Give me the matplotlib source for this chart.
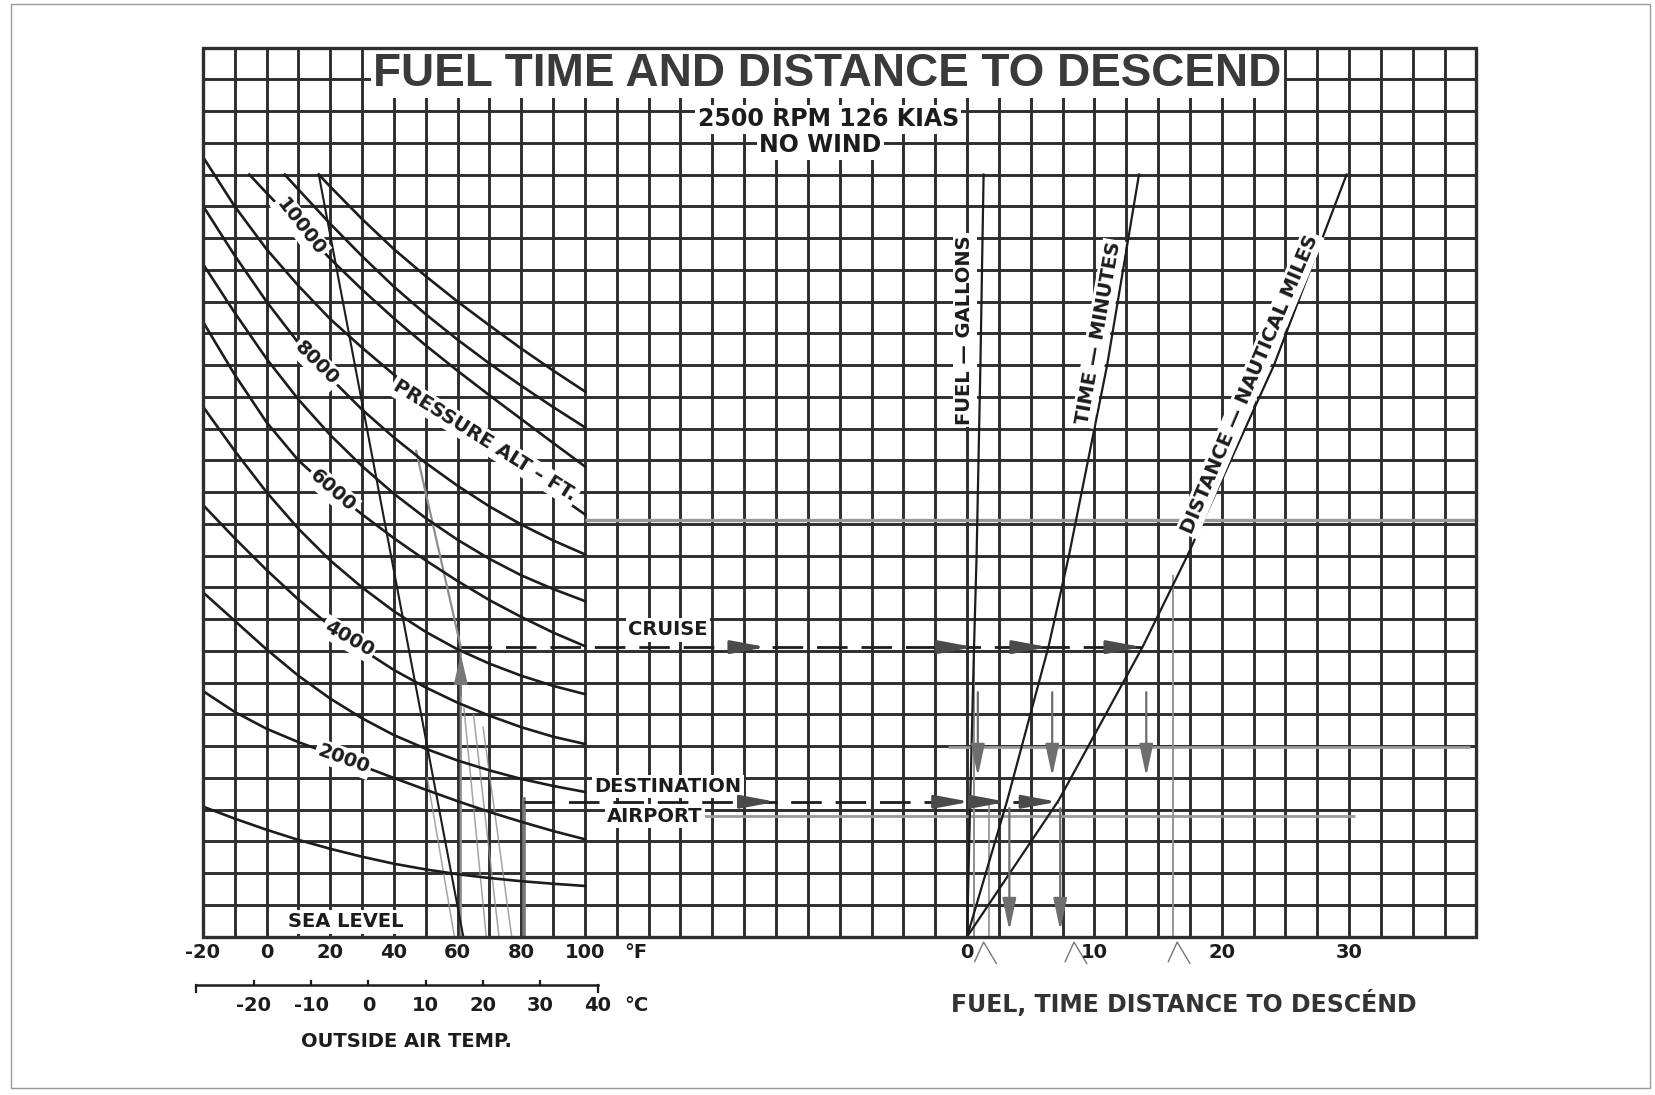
import matplotlib.pyplot as plt
import numpy as np
from matplotlib.patches import Rectangle

# left panel: outside air temperature columns, deg F
oat_f = [-20, -10, 0, 10, 20, 30, 40, 50, 60, 70, 80, 90, 100]

# pressure altitude curves, height in chart rows read at each oat_f column
alt_1000 = [4.10, 3.72, 3.37, 3.05, 2.77, 2.52, 2.30, 2.12, 1.97, 1.85, 1.75, 1.67, 1.60]
alt_2000 = [7.74, 7.08, 6.55, 6.13, 5.76, 5.38, 5.00, 4.63, 4.27, 3.93, 3.62, 3.33, 3.07]
alt_3000 = [10.85, 9.95, 9.05, 8.22, 7.50, 6.88, 6.35, 5.92, 5.55, 5.24, 4.97, 4.75, 4.56]
alt_4000 = [13.60, 12.55, 11.55, 10.62, 9.78, 9.05, 8.40, 7.85, 7.37, 6.96, 6.60, 6.30, 6.07]
alt_5000 = [16.70, 15.30, 14.00, 12.85, 11.85, 11.00, 10.25, 9.60, 9.05, 8.60, 8.22, 7.90, 7.64]
alt_6000 = [19.37, 17.70, 16.20, 15.00, 14.10, 13.30, 12.55, 11.85, 11.20, 10.60, 10.07, 9.58, 9.15]
alt_7000 = [21.19, 19.65, 18.20, 16.92, 15.80, 14.82, 13.95, 13.18, 12.50, 11.90, 11.38, 10.95, 10.57]
alt_8000 = [23.02, 21.45, 20.00, 18.70, 17.60, 16.60, 15.72, 14.92, 14.20, 13.55, 12.98, 12.48, 12.04]
alt_9000 = [24.56, 23.00, 21.65, 20.50, 19.45, 18.55, 17.70, 16.93, 16.20, 15.45, 14.72, 14.00, 13.30]

# the three upper curves start on the row-24 line
oat_10000 = [-5.4, 0, 10, 20, 30, 40, 50, 60, 70, 80, 90, 100]
alt_10000 = [24.0, 23.42, 22.38, 21.35, 20.38, 19.47, 18.62, 17.82, 17.05, 16.30, 15.55, 14.81]
oat_11000 = [5.7, 10, 20, 30, 40, 50, 60, 70, 80, 90, 100]
alt_11000 = [24.0, 23.53, 22.45, 21.43, 20.47, 19.60, 18.80, 18.05, 17.35, 16.68, 16.04]
oat_12000 = [16.4, 20, 30, 40, 50, 60, 70, 80, 90, 100]
alt_12000 = [24.0, 23.62, 22.60, 21.65, 20.80, 20.00, 19.25, 18.52, 17.83, 17.17]

# standard temperature line
isa_f = [16.4, 61.8]
isa_row = [24.0, 0.0]

# right panel: fuel (gal), time (min) and distance (nm) against chart row
descent_row = [0, 4.3, 9.14, 12, 18, 24]
fuel_gal = [0, 0.25, 0.55, 0.75, 1.05, 1.30]
time_min = [0, 3.16, 6.40, 8.00, 11.00, 13.50]
dist_nm = [0, 7.20, 13.80, 17.30, 24.10, 29.80]

# worked example
cruise_oat, cruise_row = 61, 9.12
dest_oat, dest_row = 81, 4.25

f_ticks = [-20, 0, 20, 40, 60, 80, 100]
c_ticks = [-30, -20, -10, 0, 10, 20, 30, 40]
r_ticks = [0, 10, 20, 30]

INK = '#1c1c1c'
GRID = '#2e2e2e'
PENCIL = '#8e8e8e'
plt.rcParams['font.family'] = ['DejaVu Sans']

fig = plt.figure(figsize=(16.56, 10.95), dpi=100)
ax = fig.add_axes([0.1225, 0.1445, 0.7691, 0.8121])
ax.set_xlim(-20, 380)
ax.set_ylim(0, 28)
ax.axis('off')
ax2 = ax.twiny()
ax2.set_xlim(-60, 40)
ax2.axis('off')


def to_u(f):
    # deg F position -> right panel units
    f0, f1 = ax.get_xlim()
    u0, u1 = ax2.get_xlim()
    return u0 + (f - f0) * (u1 - u0) / (f1 - f0)


# grid
ax.vlines(np.arange(-20, 381, 10), 0, 28, color=GRID, lw=2.1, zorder=1)
ax.hlines(np.arange(0, 29, 1), -20, 380, color=GRID, lw=2.1, zorder=1)

# pressure altitude curves
curves = [(oat_f, alt_1000), (oat_f, alt_2000), (oat_f, alt_3000), (oat_f, alt_4000),
          (oat_f, alt_5000), (oat_f, alt_6000), (oat_f, alt_7000), (oat_f, alt_8000),
          (oat_f, alt_9000), (oat_10000, alt_10000), (oat_11000, alt_11000),
          (oat_12000, alt_12000)]
for xs, ys in curves:
    ax.plot(xs, ys, color=INK, lw=1.9, solid_joinstyle='round', zorder=3)
ax.plot(isa_f, isa_row, color=INK, lw=1.5, zorder=3)

# pencil marks on the left panel
ax.plot([47, cruise_oat, cruise_oat], [15.3, cruise_row, 0], color=PENCIL, lw=1.6, zorder=2.5)
ax.plot([dest_oat, dest_oat], [0, dest_row + 0.1], color='#777', lw=2.6, zorder=2.5)
for x0, y0, x1 in [(50.5, 5.0, 59), (62, 7.2, 69), (65, 7.0, 73), (68, 6.6, 77)]:
    ax.plot([x0, x1], [y0, 0], color=PENCIL, lw=1.1, alpha=0.8, zorder=2.5)
ax.annotate('', xy=(cruise_oat, 8.9), xytext=(cruise_oat, 7.6),
            arrowprops=dict(arrowstyle='-|>,head_length=1.3,head_width=0.3', color='#777',
                            lw=1.5, mutation_scale=14, shrinkA=0, shrinkB=0), zorder=2.6)
ax.hlines([13.12], 100, 380, color='#9a9a9a', lw=2.4, zorder=2)
ax.hlines([5.99], 214, 378, color='#9a9a9a', lw=2.0, zorder=2)
ax.hlines([3.79], 107, 342, color='#9a9a9a', lw=2.0, zorder=2)

# curve labels
lab = dict(fontsize=14, fontweight='bold', color=INK, ha='center', va='center', zorder=5,
           bbox=dict(boxstyle='square,pad=0.12', fc='white', ec='none'))
for txt, x, y, rot in [('10000', 10.8, 22.35, -52), ('8000', 15.8, 18.05, -45),
                       ('6000', 20.8, 14.04, -41), ('4000', 25.8, 9.38, -30),
                       ('2000', 24.1, 5.6, -20)]:
    ax.text(x, y, txt, rotation=rot, rotation_mode='anchor', **lab)
ax.text(68.5, 15.62, 'PRESSURE ALT \u2013 FT.', rotation=-32, rotation_mode='anchor', **lab)
ax.text(24.8, 0.47, 'SEA LEVEL', **lab)
ax.text(126, 9.66, 'CRUISE', **lab)
ax.text(126, 4.73, 'DESTINATION', **lab)
ax.text(122, 3.8, 'AIRPORT', **lab)

# title block
ax.text(176.2, 27.18, 'FUEL TIME AND DISTANCE TO DESCEND', family='Liberation Sans',
        fontsize=33, fontweight='bold', color='#3a3a3a', ha='center', va='center', zorder=5,
        bbox=dict(boxstyle='square,pad=0.06', fc='white', ec='none'))
sub = dict(fontsize=17, fontweight='bold', color=INK, ha='center', va='center', zorder=5,
           bbox=dict(boxstyle='square,pad=0.1', fc='white', ec='none'))
ax.text(176.4, 25.74, '2500 RPM 126 KIAS', **sub)
ax.text(174, 24.92, 'NO WIND', **sub)

# right panel lines
ax2.plot(fuel_gal, descent_row, color=INK, lw=1.6, zorder=3)
ax2.plot(time_min, descent_row, color=INK, lw=1.6, zorder=3)
ax2.plot(dist_nm, descent_row, color=INK, lw=1.6, zorder=3)

rl = dict(fontsize=14, fontweight='bold', color=INK, ha='center', va='center', zorder=5,
          bbox=dict(boxstyle='square,pad=0.12', fc='white', ec='none'))
ax2.text(-0.17, 19.1, 'FUEL \u2014 GALLONS', rotation=90, **rl)
ax2.text(10.3, 19.0, 'TIME \u2014 MINUTES', rotation=80, **rl)
ax2.text(22.2, 17.4, 'DISTANCE \u2014 NAUTICAL MILES', rotation=67, **rl)

# example lines with arrows
arrow = dict(arrowstyle='-|>,head_length=1.5,head_width=0.28', color='#4a4a4a', lw=2.2,
             mutation_scale=14, shrinkA=0, shrinkB=0)
for oat, row, mid in [(cruise_oat, cruise_row, 157), (dest_oat, dest_row, 160)]:
    hits = [np.interp(row, descent_row, s) for s in (fuel_gal, time_min, dist_nm)]
    ax2.plot([to_u(oat), hits[2]], [row, row], color=INK, lw=2.0, dashes=(11, 5), zorder=4)
    for tip in [to_u(mid)] + hits:
        ax2.annotate('', xy=(tip, row), xytext=(tip - 2.2, row), arrowprops=arrow, zorder=4)

# pencil drop lines on the right panel
down = dict(arrowstyle='-|>,head_length=1.4,head_width=0.3', color='#6e6e6e', lw=1.6,
            mutation_scale=14, shrinkA=0, shrinkB=0)
for s in (fuel_gal, time_min, dist_nm):
    u = np.interp(cruise_row, descent_row, s)
    ax2.annotate('', xy=(u + 0.3, 5.05), xytext=(u + 0.3, 7.7), arrowprops=down, zorder=3)
for s in (time_min, dist_nm):
    u = np.interp(dest_row, descent_row, s)
    ax2.annotate('', xy=(u + 0.2, 0.2), xytext=(u + 0.2, dest_row - 0.2), arrowprops=down, zorder=3)
ax2.vlines([0.55], 0, cruise_row, color=PENCIL, lw=1.4, zorder=2.5)
ax2.vlines([16.2], 0, 11.4, color=PENCIL, lw=1.3, zorder=2.5)
ax2.vlines([1.7], 0, dest_row, color=PENCIL, lw=1.2, zorder=2.5)

# border on top of the title mask
ax2.add_patch(Rectangle((0, 0), 1, 1, transform=ax2.transAxes, fill=False, ec=GRID,
                        lw=2.4, zorder=10, clip_on=False))

# bottom scales
tx = ax.get_xaxis_transform()
tk = dict(fontsize=14, fontweight='bold', color=INK, ha='center', va='center')
for f in f_ticks:
    ax.text(f, -0.0178, str(f), transform=tx, **tk)
ax.text(116, -0.0178, '\u00b0F', transform=tx, **tk)

c_f = [c * 9 / 5 + 32 for c in c_ticks]
ax.plot([c_f[0], c_f[-1]], [-0.0542, -0.0542], transform=tx, color=INK, lw=1.8, clip_on=False)
for i, f in enumerate(c_f):
    end = i in (0, len(c_f) - 1)
    ax.plot([f, f], [-0.0542, -0.0542 - (0.008 if end else -0.005)], transform=tx,
            color=INK, lw=1.6, clip_on=False)
for c, f in zip(c_ticks[1:], c_f[1:]):
    ax.text(f, -0.0772, str(c), transform=tx, **tk)
ax.text(116, -0.0772, '\u00b0C', transform=tx, **tk)
ax.text(44, -0.1176, 'OUTSIDE AIR TEMP.', transform=tx, **tk)

tx2 = ax2.get_xaxis_transform()
for r in r_ticks:
    ax2.text(r, -0.0178, str(r), transform=tx2, **tk)
ax2.text(17, -0.0748, 'FUEL, TIME DISTANCE TO DESC\u00c9ND', transform=tx2,
         fontsize=17, fontweight='bold', color='#333', ha='center', va='center')
for u in (1.3, 8.4, 16.5):
    ax2.plot([u - 0.7, u, u + 1.0], [-0.028, -0.006, -0.03], transform=tx2, color='#777',
             lw=1.0, clip_on=False)

# page edge of the scan
fig.add_artist(Rectangle((0.0064, 0.0068), 0.99, 0.9895, transform=fig.transFigure,
                         fill=False, ec='#9a9a9a', lw=1.0))

fig.savefig('out.png', dpi=100, facecolor='white')
